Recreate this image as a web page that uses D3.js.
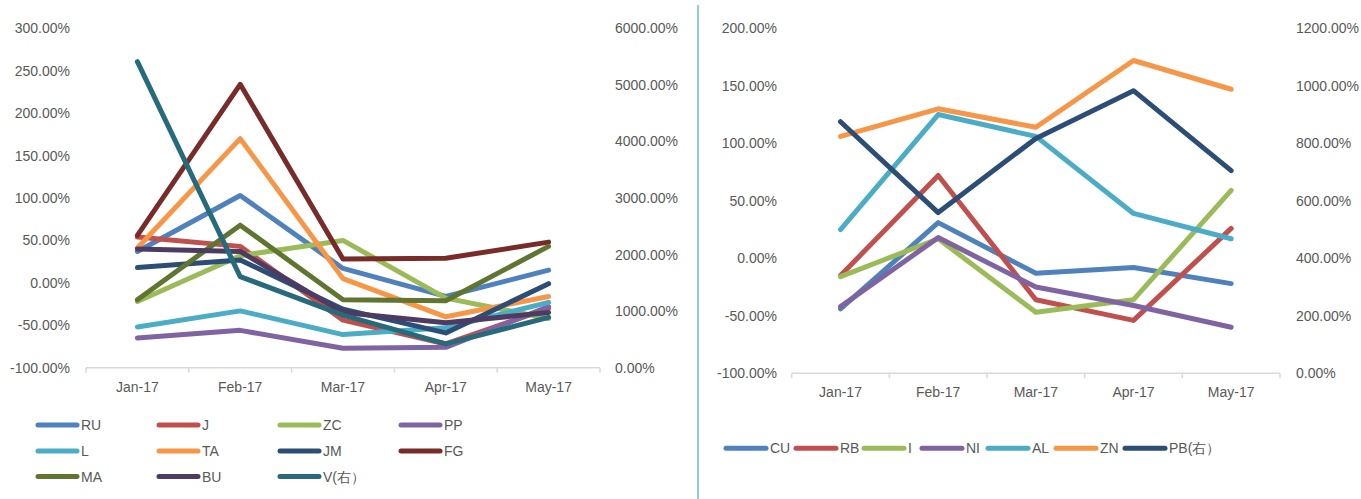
<!DOCTYPE html>
<html><head><meta charset="utf-8">
<script src="https://cdn.jsdelivr.net/npm/d3@7/dist/d3.min.js"></script>
<style>
body{margin:0;background:#fff;}
text{font-family:"Liberation Sans","DejaVu Sans",sans-serif;fill:#595959;}
</style></head>
<body><svg id="c" width="1361" height="499"></svg>
<script>
const months = ["Jan-17","Feb-17","Mar-17","Apr-17","May-17"];

// Left chart
const leftSeriesNames = ["RU","J","ZC","PP","L","TA","JM","FG","MA","BU","V(右）"];
const RU = [37, 103, 17, -16, 15];
const J  = [54, 43, -44, -72, -30];
const ZC = [-22, 32, 50, -18, -42];
const PP = [-65, -56, -77, -76, -28];
const L  = [-52, -33, -61, -53, -23];
const TA = [41, 170, 5, -40, -16];
const JM = [18, 27, -31, -59, -1];
const FG = [56, 234, 28, 29, 48];
const MA = [-20, 68, -20, -21, 43];
const BU = [40, 37, -35, -47, -35];
const V  = [5410, 1610, 930, 420, 890];   // right axis
const leftTicks = [-100, -50, 0, 50, 100, 150, 200, 250, 300];
const leftRightTicks = [0, 1000, 2000, 3000, 4000, 5000, 6000];

// Right chart
const rightSeriesNames = ["CU","RB","I","NI","AL","ZN","PB(右）"];
const CU = [-44, 31, -13, -8, -22];
const RB = [-15, 72, -36, -54, 26];
const I  = [-16, 17, -47, -36, 59];
const NI = [-42, 18, -25, -41, -60];
const AL = [25, 125, 106, 39, 17];
const ZN = [106, 130, 114, 172, 147];
const PB = [875, 559, 817, 983, 705];    // right axis
const rightTicks = [-100, -50, 0, 50, 100, 150, 200];
const rightRightTicks = [0, 200, 400, 600, 800, 1000, 1200];

const C = {blue:"#4f81bd", red:"#c0504d", green:"#9bbb59", purple:"#8064a2", aqua:"#4bacc6",
  orange:"#f79646", navy:"#2c4d75", maroon:"#772c2a", olive:"#5f7530", plum:"#4d3b62", teal:"#276a7c"};

const svg = d3.select("#c");
const fmt = v => v.toFixed(2) + "%";
const FS = 14;

function chart(cfg){
  const g = svg.append("g");
  const x = d3.scaleBand().domain(months).range([cfg.x0, cfg.x1]);
  const yL = d3.scaleLinear().domain(cfg.lDom).range([cfg.yB, cfg.yT]);
  const yR = d3.scaleLinear().domain(cfg.rDom).range([cfg.yB, cfg.yT]);
  g.append("line").attr("x1",cfg.x0).attr("x2",cfg.x1).attr("y1",cfg.yB).attr("y2",cfg.yB)
    .attr("stroke","#d9d9d9").attr("stroke-width",1.5);
  const bounds = months.map(m=>x(m)).concat([cfg.x1]);
  g.selectAll(".tk").data(bounds).join("line")
    .attr("x1",d=>d).attr("x2",d=>d).attr("y1",cfg.yB).attr("y2",cfg.yB+5)
    .attr("stroke","#d9d9d9").attr("stroke-width",1.5);
  g.selectAll(".xl").data(months).join("text")
    .attr("x",d=>x(d)+x.bandwidth()/2).attr("y",cfg.yB+24)
    .attr("text-anchor","middle").attr("font-size",FS).text(d=>d);
  g.selectAll(".yl").data(cfg.lTicks).join("text")
    .attr("x",cfg.lLab).attr("y",d=>yL(d)+5).attr("text-anchor","end")
    .attr("font-size",FS).text(fmt);
  g.selectAll(".yr").data(cfg.rTicks).join("text")
    .attr("x",cfg.rLab).attr("y",d=>yR(d)+5).attr("text-anchor","start")
    .attr("font-size",FS).text(fmt);
  cfg.series.forEach(s=>{
    const sc = s.right ? yR : yL;
    const line = d3.line().x((d,i)=>x(months[i])+x.bandwidth()/2).y(d=>sc(d));
    g.append("path").datum(s.data).attr("d",line).attr("fill","none")
      .attr("stroke",s.color).attr("stroke-width",5)
      .attr("stroke-linejoin","round").attr("stroke-linecap","round");
  });
  return g;
}

const leftSeries = [
  {data:RU,color:C.blue},{data:J,color:C.red},{data:ZC,color:C.green},{data:PP,color:C.purple},
  {data:L,color:C.aqua},{data:TA,color:C.orange},{data:JM,color:C.navy},{data:FG,color:C.maroon},
  {data:MA,color:C.olive},{data:BU,color:C.plum},{data:V,color:C.teal,right:true}];
leftSeries.forEach((s,i)=>s.name=leftSeriesNames[i]);

chart({x0:86,x1:600,yT:28.3,yB:367.7,lDom:[-100,300],rDom:[0,6000],
  lTicks:leftTicks,rTicks:leftRightTicks,lLab:70,rLab:615,series:leftSeries});

const rightSeries = [
  {data:CU,color:C.blue},{data:RB,color:C.red},{data:I,color:C.green},{data:NI,color:C.purple},
  {data:AL,color:C.aqua},{data:ZN,color:C.orange},{data:PB,color:C.navy,right:true}];
rightSeries.forEach((s,i)=>s.name=rightSeriesNames[i]);

chart({x0:791.7,x1:1280,yT:28.3,yB:373.3,lDom:[-100,200],rDom:[0,1200],
  lTicks:rightTicks,rTicks:rightRightTicks,lLab:777,rLab:1296,series:rightSeries});

// Left legend: 4 columns x 3 rows
const lg = svg.append("g");
const colX = [38, 159, 280, 401], rowY = [425, 451, 476.5];
leftSeries.forEach((s,i)=>{
  const cx = colX[i%4], cy = rowY[Math.floor(i/4)];
  lg.append("line").attr("x1",cx).attr("x2",cx+39).attr("y1",cy).attr("y2",cy)
    .attr("stroke",s.color).attr("stroke-width",5).attr("stroke-linecap","round");
  lg.append("text").attr("x",cx+43).attr("y",cy+5).attr("font-size",FS).text(s.name);
});

// Right legend: single row
const rg = svg.append("g");
const rX = [726, 796, 864, 922, 988, 1056, 1125];
rightSeries.forEach((s,i)=>{
  const cx = rX[i], cy = 448.3;
  rg.append("line").attr("x1",cx).attr("x2",cx+40).attr("y1",cy).attr("y2",cy)
    .attr("stroke",s.color).attr("stroke-width",5).attr("stroke-linecap","round");
  rg.append("text").attr("x",cx+44).attr("y",cy+5).attr("font-size",FS).text(s.name);
});

// separator
svg.append("line").attr("x1",698).attr("x2",698).attr("y1",5).attr("y2",499)
  .attr("stroke","#92cdcd").attr("stroke-width",2);
</script></body></html>
